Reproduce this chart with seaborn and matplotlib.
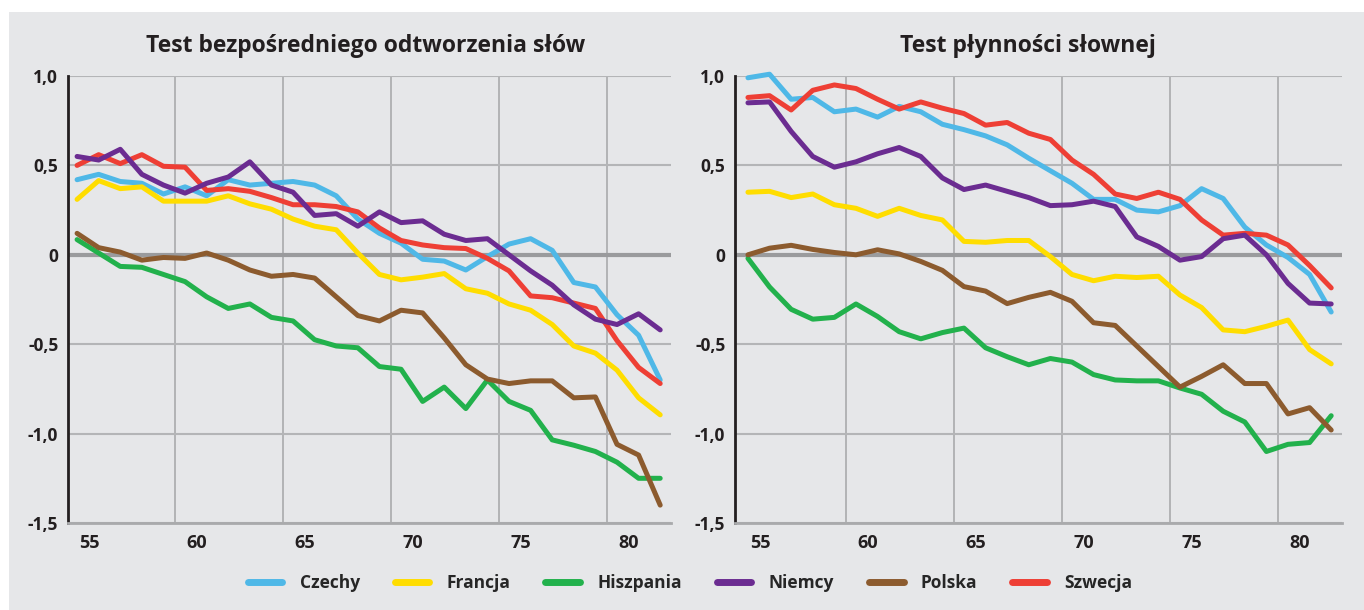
# =========================
# 1. IMPORT LIBRARIES
# =========================
import matplotlib
matplotlib.use('Agg')

import matplotlib.pyplot as plt
from matplotlib.lines import Line2D
from matplotlib.patches import Rectangle
import pandas as pd
import seaborn as sns

# =========================
# 2. DATA
# =========================
ages = list(range(55, 83))
countries = ["Czechy", "Francja", "Hiszpania", "Niemcy", "Polska", "Szwecja"]
colors = ["#4fb8e7", "#ffdd00", "#22b14c", "#6b2c91", "#8c5b2e", "#ee3f35"]

# Test bezpośredniego odtworzenia słów
recall_czechy = [0.42, 0.45, 0.41, 0.40, 0.34, 0.38, 0.33, 0.42, 0.39, 0.40, 0.41, 0.39, 0.33, 0.20,
                 0.12, 0.065, -0.025, -0.035, -0.085, -0.01, 0.06, 0.09, 0.025, -0.155, -0.18, -0.335, -0.45, -0.70]
recall_francja = [0.31, 0.415, 0.37, 0.38, 0.30, 0.30, 0.30, 0.33, 0.285, 0.255, 0.20, 0.16, 0.14, 0.01,
                  -0.11, -0.14, -0.125, -0.105, -0.19, -0.215, -0.275, -0.31, -0.39, -0.51, -0.55, -0.645, -0.80, -0.895]
recall_hiszpania = [0.085, 0.01, -0.065, -0.07, -0.11, -0.15, -0.235, -0.30, -0.275, -0.35, -0.37, -0.475, -0.51, -0.52,
                    -0.625, -0.64, -0.82, -0.74, -0.86, -0.70, -0.82, -0.87, -1.035, -1.065, -1.10, -1.16, -1.25, -1.25]
recall_niemcy = [0.55, 0.53, 0.59, 0.45, 0.39, 0.345, 0.40, 0.435, 0.52, 0.39, 0.35, 0.22, 0.23, 0.16,
                 0.24, 0.18, 0.19, 0.115, 0.08, 0.09, 0.0, -0.09, -0.17, -0.28, -0.36, -0.39, -0.33, -0.42]
recall_polska = [0.12, 0.04, 0.015, -0.03, -0.015, -0.02, 0.01, -0.03, -0.085, -0.12, -0.11, -0.13, -0.235, -0.34,
                 -0.37, -0.31, -0.325, -0.465, -0.615, -0.695, -0.72, -0.705, -0.705, -0.80, -0.795, -1.06, -1.12, -1.40]
recall_szwecja = [0.50, 0.56, 0.51, 0.56, 0.495, 0.49, 0.36, 0.37, 0.355, 0.32, 0.28, 0.28, 0.27, 0.24,
                  0.15, 0.08, 0.055, 0.04, 0.035, -0.02, -0.09, -0.23, -0.24, -0.27, -0.30, -0.48, -0.63, -0.72]

# Test płynności słownej
fluency_czechy = [0.99, 1.01, 0.87, 0.88, 0.80, 0.815, 0.77, 0.83, 0.80, 0.73, 0.70, 0.665, 0.615, 0.54,
                  0.47, 0.40, 0.31, 0.31, 0.25, 0.24, 0.275, 0.37, 0.315, 0.155, 0.055, -0.015, -0.11, -0.32]
fluency_francja = [0.35, 0.355, 0.32, 0.34, 0.28, 0.26, 0.215, 0.26, 0.22, 0.195, 0.075, 0.07, 0.08, 0.08,
                   -0.01, -0.11, -0.145, -0.12, -0.127, -0.12, -0.225, -0.295, -0.42, -0.43, -0.40, -0.365, -0.53, -0.61]
fluency_hiszpania = [-0.02, -0.18, -0.305, -0.36, -0.35, -0.275, -0.345, -0.43, -0.47, -0.435, -0.41, -0.52, -0.57, -0.615,
                     -0.58, -0.60, -0.67, -0.70, -0.705, -0.705, -0.745, -0.78, -0.875, -0.935, -1.10, -1.06, -1.05, -0.90]
fluency_niemcy = [0.85, 0.855, 0.69, 0.55, 0.49, 0.52, 0.565, 0.60, 0.55, 0.43, 0.365, 0.39, 0.355, 0.32,
                  0.275, 0.28, 0.30, 0.27, 0.10, 0.047, -0.03, -0.01, 0.09, 0.11, 0.0, -0.16, -0.27, -0.275]
fluency_polska = [0.0, 0.037, 0.053, 0.03, 0.013, 0.0, 0.028, 0.005, -0.037, -0.087, -0.178, -0.203, -0.273, -0.238,
                  -0.21, -0.26, -0.38, -0.395, -0.51, -0.625, -0.74, -0.68, -0.615, -0.72, -0.72, -0.89, -0.855, -0.98]
fluency_szwecja = [0.88, 0.89, 0.81, 0.92, 0.95, 0.93, 0.87, 0.815, 0.855, 0.82, 0.79, 0.725, 0.74, 0.68,
                   0.645, 0.53, 0.45, 0.34, 0.315, 0.35, 0.31, 0.195, 0.11, 0.12, 0.11, 0.055, -0.06, -0.185]

titles = ["Test bezpośredniego odtworzenia słów", "Test płynności słownej"]
y_ticks = [-1.5, -1.0, -0.5, 0, 0.5, 1.0]
y_labels = ["-1,5", "-1,0", "-0,5", "0", "0,5", "1,0"]
x_labels = ["55", "60", "65", "70", "75", "80"]

recall = [recall_czechy, recall_francja, recall_hiszpania, recall_niemcy, recall_polska, recall_szwecja]
fluency = [fluency_czechy, fluency_francja, fluency_hiszpania, fluency_niemcy, fluency_polska, fluency_szwecja]


def to_long(series_list):
    rows = []
    for name, vals in zip(countries, series_list):
        for a, v in zip(ages, vals):
            rows.append({"age": a, "value": v, "country": name})
    return pd.DataFrame(rows)


# =========================
# 3. STYLE
# =========================
sns.set_style("white")
plt.rcParams['font.family'] = ['Open Sans', 'DejaVu Sans']
plt.rcParams['font.weight'] = 'bold'

BG = "#e6e7e9"
palette = dict(zip(countries, colors))
draw_order = ["Czechy", "Francja", "Hiszpania", "Polska", "Szwecja", "Niemcy"]

fig = plt.figure(figsize=(13.64, 6.10), dpi=100, facecolor="white")
fig.patches.append(Rectangle((9 / 1364, 0), 1, (610 - 12) / 610, transform=fig.transFigure,
                             facecolor=BG, edgecolor="none", zorder=-10))

ax_left = fig.add_axes([68 / 1364, 87 / 610, 603 / 1364, 447 / 610])
ax_right = fig.add_axes([735 / 1364, 87 / 610, 607 / 1364, 447 / 610])

# =========================
# 4. PLOT PANELS
# =========================
for ax, data, x0 in [(ax_left, recall, 54.58), (ax_right, fluency, 54.4)]:
    df = to_long(data)
    sns.lineplot(data=df, x="age", y="value", hue="country", hue_order=draw_order,
                 palette=palette, linewidth=3.6, estimator=None, legend=False,
                 ax=ax, clip_on=False, zorder=3)

    ax.set_facecolor(BG)
    ax.set_xlim(x0, 82.5)
    ax.set_ylim(-1.5, 1.0)

    ax.set_yticks(y_ticks)
    ax.set_yticklabels(y_labels, fontsize=12.5, fontweight='bold', color="#231f20")
    ax.set_xticks([55.56, 60.56, 65.56, 70.56, 75.56, 80.56])
    ax.set_xticklabels(x_labels, fontsize=13, fontweight='bold', color="#231f20")
    ax.set_xticks([59.54, 64.54, 69.54, 74.54, 79.54], minor=True)

    ax.tick_params(axis='x', which='both', length=0, pad=8)
    ax.tick_params(axis='y', length=5, width=2, color="#231f20", pad=2)

    ax.set_axisbelow(True)
    ax.grid(axis='y', which='major', color="#b4b5b7", linewidth=1.5)
    ax.grid(axis='x', which='minor', color="#a9aaac", linewidth=1.2)
    ax.grid(axis='x', which='major', visible=False)
    ax.axhline(0, color="#9a9b9d", linewidth=3, zorder=2)

    for side in ["top", "right"]:
        ax.spines[side].set_visible(False)
    ax.spines["left"].set_color("#231f20")
    ax.spines["left"].set_linewidth(2)
    ax.spines["bottom"].set_color("#a9aaac")
    ax.spines["bottom"].set_linewidth(2)

    ax.set_xlabel("")
    ax.set_ylabel("")

fig.text(366 / 1364, 1 - 46 / 610, titles[0], ha='center', va='center',
         fontsize=16.5, fontweight='bold', color="#231f20")
fig.text(1028 / 1364, 1 - 46 / 610, titles[1], ha='center', va='center',
         fontsize=16.5, fontweight='bold', color="#231f20")

# =========================
# 5. LEGEND
# =========================
handles = [Line2D([0], [0], color=c, linewidth=5, solid_capstyle='round') for c in colors]
fig.legend(handles, countries, loc='center', bbox_to_anchor=(690 / 1364, 27 / 610),
           ncol=6, frameon=False, handlelength=2.0, handletextpad=1.0, columnspacing=2.0,
           prop={'size': 12.5, 'weight': 'bold'})

plt.savefig("out.png", dpi=100, facecolor=fig.get_facecolor())
plt.close()
